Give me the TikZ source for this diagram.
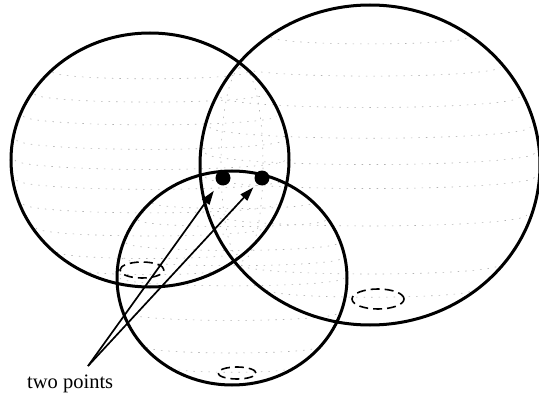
\documentclass[tikz,border=0pt]{standalone}
\usepackage{fontspec}
\setmainfont{Liberation Serif}
\usetikzlibrary{arrows.meta,calc}
\begin{document}
\begin{tikzpicture}[x=1pt,y=-1pt,
  sphere/.style={line width=3pt,black},
  lat/.style={gray!60,line width=0.6pt,dash pattern=on 1.5pt off 6pt},
  hole/.style={line width=1.6pt,dash pattern=on 9pt off 5pt},
  pt/.style={circle,fill=black,inner sep=0pt,minimum size=15pt},
  ptr/.style={line width=1.7pt,-{Triangle[length=14pt,width=9pt]}},
  lbl/.style={font=\fontsize{20.5}{22}\selectfont,inner sep=0pt}]
\useasboundingbox (0,0) rectangle (539,396);
% latitude lines, left sphere
\begin{scope}
  \clip (150,160) ellipse [x radius=139pt, y radius=127pt];
  \foreach \dy in {-88,-66,-44,-20,0,20,44,68,92,110}{
    \pgfmathsetmacro{\w}{135*sqrt(1-(\dy/127)^2)}
    \draw[lat] ($(150,160)+(-\w,\dy)$) arc[start angle=180,end angle=360,x radius=\w pt,y radius=0.07*\w pt];
  }
\end{scope}
% latitude lines, right sphere
\begin{scope}
  \clip (370,165) ellipse [x radius=170pt, y radius=160pt];
  \foreach \dy in {-128,-98,-68,-38,-12,12,50,100,125}{
    \pgfmathsetmacro{\w}{165*sqrt(1-(\dy/160)^2)}
    \draw[lat] ($(370,165)+(-\w,\dy)$) arc[start angle=180,end angle=360,x radius=\w pt,y radius=0.07*\w pt];
  }
\end{scope}
% latitude lines, bottom sphere
\begin{scope}
  \clip (232,278) ellipse [x radius=115pt, y radius=107pt];
  \foreach \dy in {-75,-58,-35,-20,0,35,69,90}{
    \pgfmathsetmacro{\w}{112*sqrt(1-(\dy/107)^2)}
    \draw[lat] ($(232,278)+(-\w,\dy)$) arc[start angle=180,end angle=360,x radius=\w pt,y radius=0.07*\w pt];
  }
\end{scope}
% intersection circle of the two large spheres
\draw[lat] (242,164) ellipse [x radius=21pt, y radius=97pt];
% spheres
\draw[sphere] (150,160) ellipse [x radius=139pt, y radius=127pt];
\draw[sphere] (370,165) ellipse [x radius=170pt, y radius=160pt];
\draw[sphere] (232,278) ellipse [x radius=115pt, y radius=107pt];
% small dashed ellipses
\draw[hole] (142,270) ellipse [x radius=22pt, y radius=8pt];
\draw[hole] (378,299) ellipse [x radius=26pt, y radius=10pt];
\draw[hole] (237,373) ellipse [x radius=19pt, y radius=6pt];
% the two points
\node[pt] (p1) at (223,178) {};
\node[pt] (p2) at (262,178) {};
% label and pointers
\coordinate (src) at (88,366);
\node[lbl,anchor=base west] (lab) at (27,388) {two points};
\draw[ptr,shorten >=8pt] (src) -- (p1);
\draw[ptr,shorten >=5pt] (src) -- (p2);
\end{tikzpicture}
\end{document}
